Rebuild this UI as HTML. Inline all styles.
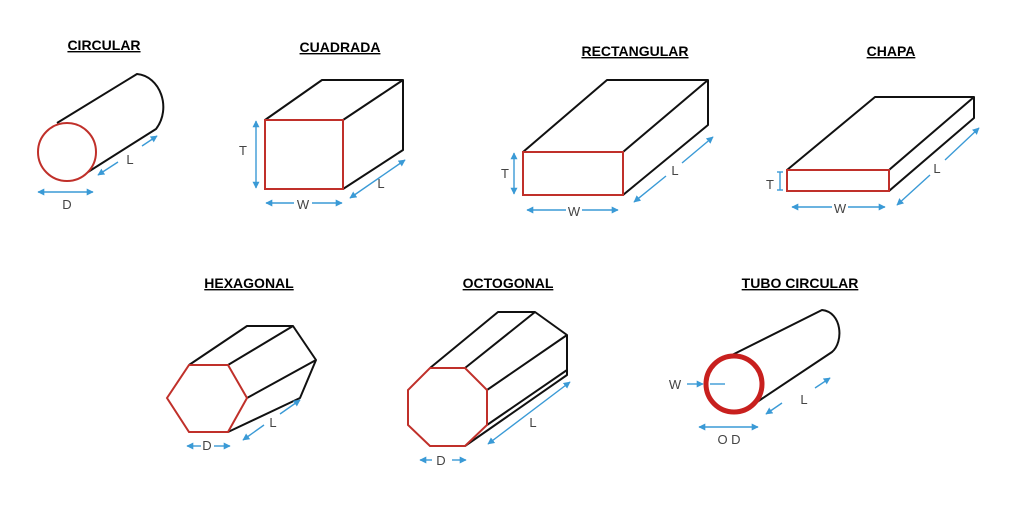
<!DOCTYPE html>
<html><head><meta charset="utf-8"><style>
html,body{margin:0;padding:0;background:#fff;}
svg{display:block;}
.t{font-family:"Liberation Sans",Arial,sans-serif;font-weight:bold;font-size:14px;text-decoration:underline;fill:#000;}
.l{font-family:"Liberation Sans",Arial,sans-serif;font-size:13px;fill:#444;}
.k{stroke:#111;stroke-width:2;fill:none;stroke-linejoin:round;}
.r{stroke:#c0302a;stroke-width:2;fill:#fff;}
.b{stroke:#3a9ad6;stroke-width:1.4;fill:none;}
</style></head><body>
<svg width="1024" height="512" viewBox="0 0 1024 512" xmlns="http://www.w3.org/2000/svg">
<defs>
<marker id="a" viewBox="0 0 10 10" refX="9" refY="5" markerWidth="5" markerHeight="5" orient="auto-start-reverse"><path d="M0,0 L10,5 L0,10 z" fill="#3a9ad6"/></marker>
</defs>
<rect width="1024" height="512" fill="#fff"/>

<!-- CIRCULAR -->
<text class="t" x="104" y="50" text-anchor="middle">CIRCULAR</text>
<path class="k" d="M57,123 L137,74 C160,76 172,108 156,129 L88,172"/>
<circle class="r" cx="67" cy="152" r="29"/>
<line class="b" x1="98" y1="175" x2="118" y2="162" marker-start="url(#a)"/>
<line class="b" x1="142" y1="146" x2="157" y2="136" marker-end="url(#a)"/>
<text class="l" x="130" y="164" text-anchor="middle" font-size="15">L</text>
<line class="b" x1="38" y1="192" x2="93" y2="192" marker-start="url(#a)" marker-end="url(#a)"/>
<text class="l" x="67" y="209" text-anchor="middle" font-size="14">D</text>

<!-- CUADRADA -->
<text class="t" x="340" y="52" text-anchor="middle">CUADRADA</text>
<path class="k" d="M265,120 L322,80 L403,80 L403,150 L343,189 M343,120 L403,80"/>
<rect class="r" x="265" y="120" width="78" height="69"/>
<line class="b" x1="256" y1="121" x2="256" y2="188" marker-start="url(#a)" marker-end="url(#a)"/>
<text class="l" x="243" y="155" text-anchor="middle" font-size="14">T</text>
<line class="b" x1="266" y1="203" x2="294" y2="203" marker-start="url(#a)"/>
<line class="b" x1="312" y1="203" x2="342" y2="203" marker-end="url(#a)"/>
<text class="l" x="303" y="209" text-anchor="middle" font-size="14">W</text>
<line class="b" x1="350" y1="198" x2="405" y2="160" marker-start="url(#a)" marker-end="url(#a)"/>
<text class="l" x="381" y="188" text-anchor="middle" font-size="15">L</text>

<!-- RECTANGULAR -->
<text class="t" x="635" y="56" text-anchor="middle">RECTANGULAR</text>
<path class="k" d="M523,152 L607,80 L708,80 L708,125 L623,195 M623,152 L708,80"/>
<rect class="r" x="523" y="152" width="100" height="43"/>
<line class="b" x1="514" y1="153" x2="514" y2="194" marker-start="url(#a)" marker-end="url(#a)"/>
<text class="l" x="505" y="178" text-anchor="middle" font-size="14">T</text>
<line class="b" x1="527" y1="210" x2="566" y2="210" marker-start="url(#a)"/>
<line class="b" x1="582" y1="210" x2="618" y2="210" marker-end="url(#a)"/>
<text class="l" x="574" y="216" text-anchor="middle" font-size="12">W</text>
<line class="b" x1="634" y1="202" x2="666" y2="176" marker-start="url(#a)"/>
<line class="b" x1="682" y1="163" x2="713" y2="137" marker-end="url(#a)"/>
<text class="l" x="675" y="175" text-anchor="middle" font-size="15">L</text>

<!-- CHAPA -->
<text class="t" x="891" y="56" text-anchor="middle">CHAPA</text>
<path class="k" d="M787,170 L875,97 L974,97 L974,118 L889,191 M889,170 L974,97"/>
<rect class="r" x="787" y="170" width="102" height="21"/>
<line class="b" x1="780" y1="172" x2="780" y2="190" stroke-width="1"/>
<line class="b" x1="777" y1="172" x2="783" y2="172" stroke-width="1"/>
<line class="b" x1="777" y1="190" x2="783" y2="190" stroke-width="1"/>
<text class="l" x="770" y="189" text-anchor="middle" font-size="14">T</text>
<line class="b" x1="792" y1="207" x2="832" y2="207" marker-start="url(#a)"/>
<line class="b" x1="848" y1="207" x2="885" y2="207" marker-end="url(#a)"/>
<text class="l" x="840" y="213" text-anchor="middle" font-size="12">W</text>
<line class="b" x1="897" y1="205" x2="930" y2="175" marker-start="url(#a)"/>
<line class="b" x1="945" y1="160" x2="979" y2="128" marker-end="url(#a)"/>
<text class="l" x="937" y="173" text-anchor="middle" font-size="15">L</text>

<!-- HEXAGONAL -->
<text class="t" x="249" y="288" text-anchor="middle">HEXAGONAL</text>
<path class="k" d="M189,365 L247,326 L293,326 L316,360 L300,398 L228,432 M228,365 L293,326 M247,398 L316,360"/>
<polygon class="r" points="167,398 189,365 228,365 247,398 228,432 189,432"/>
<line class="b" x1="187" y1="446" x2="201" y2="446" stroke-width="1" marker-start="url(#a)"/>
<line class="b" x1="214" y1="446" x2="230" y2="446" stroke-width="1" marker-end="url(#a)"/>
<text class="l" x="207" y="450" text-anchor="middle" font-size="10">D</text>
<line class="b" x1="243" y1="440" x2="264" y2="425" marker-start="url(#a)"/>
<line class="b" x1="280" y1="414" x2="300" y2="400" marker-end="url(#a)"/>
<text class="l" x="273" y="427" text-anchor="middle" font-size="15">L</text>

<!-- OCTOGONAL -->
<text class="t" x="508" y="288" text-anchor="middle">OCTOGONAL</text>
<path class="k" d="M430,368 L498,312 L535,312 L567,335 L567,375 L465,446 M465,368 L535,312 M487,390 L567,335 M487,425 L567,370"/>
<polygon class="r" points="430,368 465,368 487,390 487,425 465,446 430,446 408,425 408,390"/>
<line class="b" x1="420" y1="460" x2="432" y2="460" stroke-width="1" marker-start="url(#a)"/>
<line class="b" x1="452" y1="460" x2="466" y2="460" stroke-width="1" marker-end="url(#a)"/>
<text class="l" x="441" y="465" text-anchor="middle" font-size="14">D</text>
<line class="b" x1="488" y1="444" x2="570" y2="382" stroke-width="2" marker-start="url(#a)" marker-end="url(#a)"/>
<text class="l" x="533" y="427" text-anchor="middle" font-size="22" fill="#111">L</text>

<!-- TUBO CIRCULAR -->
<text class="t" x="800" y="288" text-anchor="middle">TUBO CIRCULAR</text>
<path class="k" d="M730,356 L822,310 C842,312 844,342 832,352 L757,402"/>
<circle cx="734" cy="384" r="28" fill="#fff" stroke="#c8201e" stroke-width="5"/>
<text class="l" x="675" y="389" text-anchor="middle" font-size="11">W</text>
<line class="b" x1="687" y1="384" x2="703" y2="384" stroke-width="1" marker-end="url(#a)"/>
<line class="b" x1="710" y1="384" x2="725" y2="384" stroke-width="1"/>
<line class="b" x1="766" y1="414" x2="782" y2="403" stroke-width="1" marker-start="url(#a)"/>
<line class="b" x1="815" y1="388" x2="830" y2="378" stroke-width="1" marker-end="url(#a)"/>
<text class="l" x="804" y="404" text-anchor="middle" font-size="14">L</text>
<line class="b" x1="699" y1="427" x2="758" y2="427" stroke-width="1" marker-start="url(#a)" marker-end="url(#a)"/>
<text class="l" x="729" y="444" text-anchor="middle" font-size="13">O D</text>
</svg>
</body></html>
